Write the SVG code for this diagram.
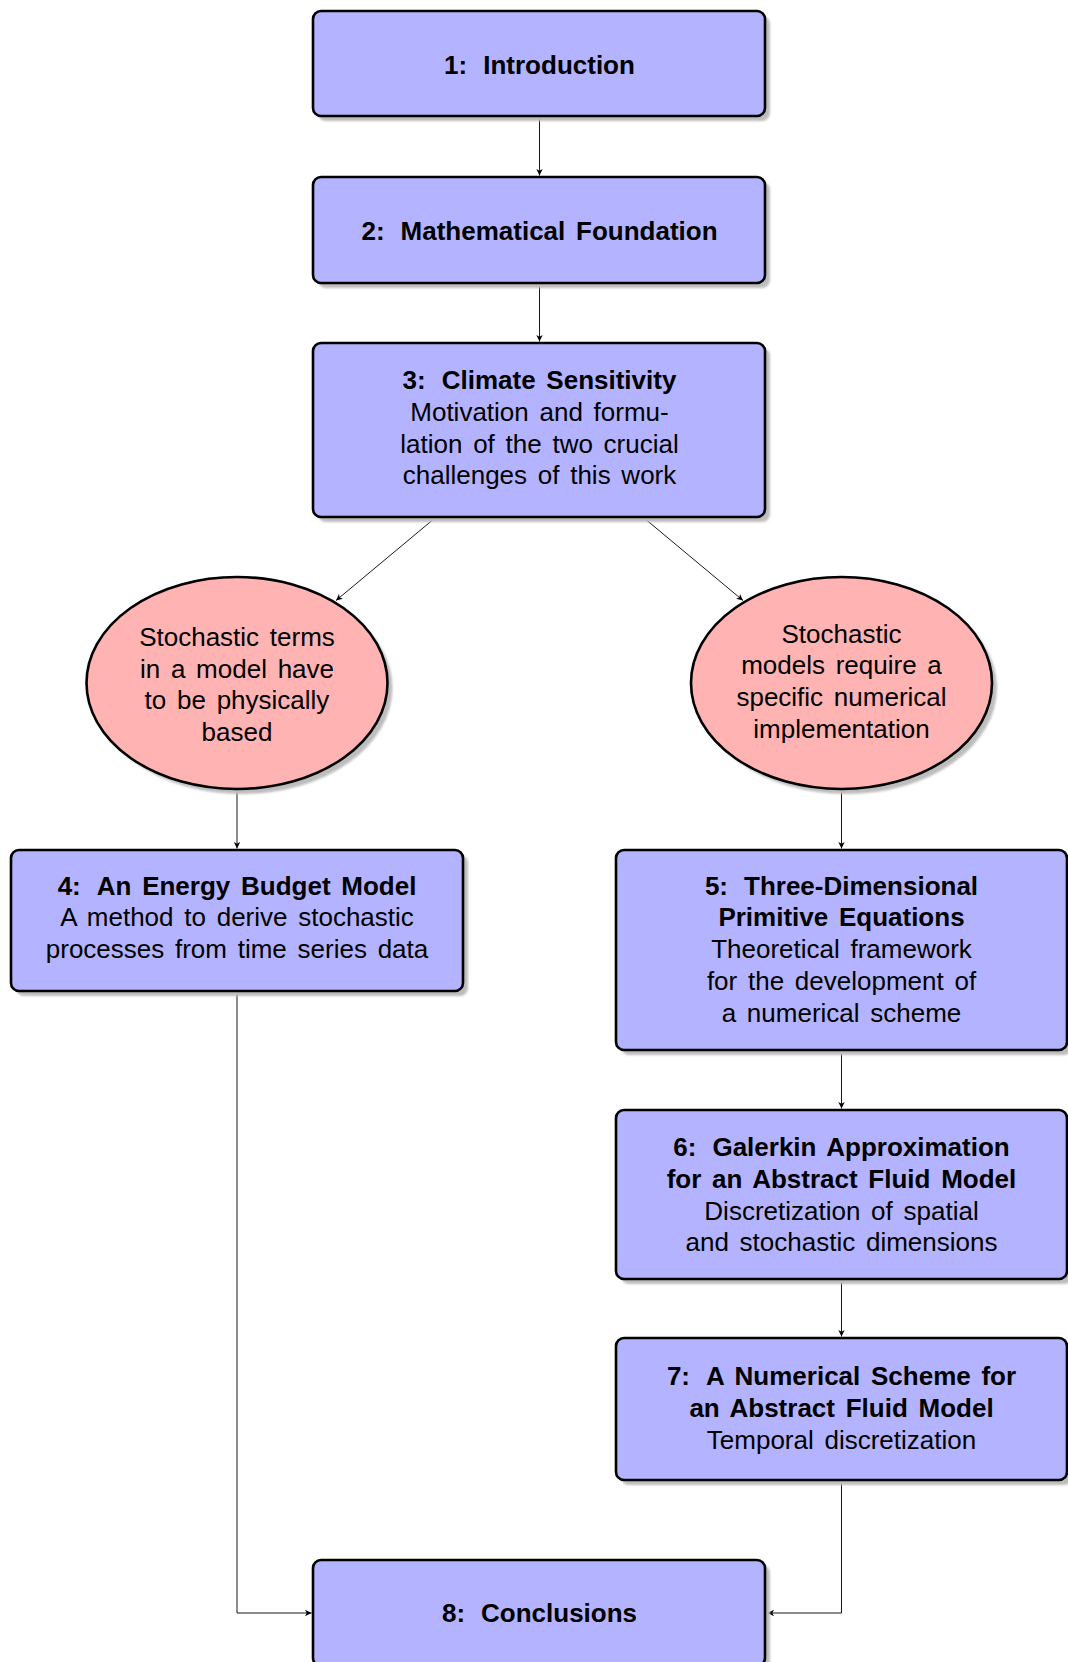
<svg xmlns="http://www.w3.org/2000/svg" width="1068" height="1662" viewBox="0 0 1068 1662">
<defs>
<style>
.box{fill:#b3b3ff;stroke:#000;stroke-width:2.6}
.ell{fill:#ffb3b3;stroke:#000;stroke-width:2.6}
.sh{fill:#bdbdbd}
text{font-family:"Liberation Sans",Arial,sans-serif;font-size:26px;fill:#000;text-anchor:middle;word-spacing:3.5px}
.b{font-weight:bold}
.con{fill:none;stroke:#000;stroke-width:0.9}
</style>
<marker id="arr" viewBox="-7 -4 8 8" refX="0" refY="0" markerWidth="8" markerHeight="8" markerUnits="userSpaceOnUse" orient="auto">
<path d="M0,0 L-6.5,-3.2 L-4.8,0 L-6.5,3.2 Z" fill="#000"/>
</marker>
<filter id="blur" x="-5%" y="-5%" width="110%" height="110%"><feGaussianBlur stdDeviation="0.8"/></filter>
</defs>
<rect width="1068" height="1662" fill="#fff"/>

<g id="connectors">
<line class="con" x1="539.5" y1="117" x2="539.5" y2="175.5" marker-end="url(#arr)"/>
<line class="con" x1="539.5" y1="283" x2="539.5" y2="341.5" marker-end="url(#arr)"/>
<line class="con" x1="435" y1="518" x2="336" y2="600.5" marker-end="url(#arr)"/>
<line class="con" x1="644" y1="518" x2="743" y2="600.5" marker-end="url(#arr)"/>
<line class="con" x1="237" y1="789" x2="237" y2="848.5" marker-end="url(#arr)"/>
<line class="con" x1="841.5" y1="789" x2="841.5" y2="848.5" marker-end="url(#arr)"/>
<line class="con" x1="841.5" y1="1050" x2="841.5" y2="1108.5" marker-end="url(#arr)"/>
<line class="con" x1="841.5" y1="1279" x2="841.5" y2="1336.5" marker-end="url(#arr)"/>
<polyline class="con" points="237,991 237,1613 311.5,1613" marker-end="url(#arr)"/>
<polyline class="con" points="841.5,1480 841.5,1613 767.5,1613" marker-end="url(#arr)"/>
</g>

<g id="n1">
<rect class="sh" filter="url(#blur)" x="318" y="16" width="452" height="105" rx="8"/>
<rect class="box" x="313" y="11" width="452" height="105" rx="8"/>
<text class="b" x="539.5" y="74">1:<tspan dx="16">Introduction</tspan></text>
</g>

<g id="n2">
<rect class="sh" filter="url(#blur)" x="318" y="182" width="452" height="106" rx="8"/>
<rect class="box" x="313" y="177" width="452" height="106" rx="8"/>
<text class="b" x="539.5" y="240">2:<tspan dx="16">Mathematical Foundation</tspan></text>
</g>

<g id="n3">
<rect class="sh" filter="url(#blur)" x="318" y="348" width="452" height="174" rx="8"/>
<rect class="box" x="313" y="343" width="452" height="174" rx="8"/>
<text class="b" x="539.5" y="388.8">3:<tspan dx="16">Climate Sensitivity</tspan></text>
<text x="539.5" y="421">Motivation and formu-</text>
<text x="539.5" y="452.7">lation of the two crucial</text>
<text x="539.5" y="484.3">challenges of this work</text>
</g>

<g id="e1">
<ellipse class="sh" filter="url(#blur)" cx="242" cy="688" rx="150.5" ry="106"/>
<ellipse class="ell" cx="237" cy="683" rx="150.5" ry="106"/>
<text x="237" y="645.7">Stochastic terms</text>
<text x="237" y="677.5">in a model have</text>
<text x="237" y="709.3">to be physically</text>
<text x="237" y="741">based</text>
</g>

<g id="e2">
<ellipse class="sh" filter="url(#blur)" cx="846.5" cy="688" rx="150.5" ry="106"/>
<ellipse class="ell" cx="841.5" cy="683" rx="150.5" ry="106"/>
<text x="841.5" y="642.5">Stochastic</text>
<text x="841.5" y="674.3">models require a</text>
<text x="841.5" y="706.1">specific numerical</text>
<text x="841.5" y="737.9">implementation</text>
</g>

<g id="n4">
<rect class="sh" filter="url(#blur)" x="16" y="855" width="452" height="141" rx="8"/>
<rect class="box" x="11" y="850" width="452" height="141" rx="8"/>
<text class="b" x="237" y="894.5">4:<tspan dx="16">An Energy Budget Model</tspan></text>
<text x="237" y="926.3">A method to derive stochastic</text>
<text x="237" y="958.1">processes from time series data</text>
</g>

<g id="n5">
<rect class="sh" filter="url(#blur)" x="621" y="855" width="451" height="200" rx="8"/>
<rect class="box" x="616" y="850" width="451" height="200" rx="8"/>
<text class="b" x="841.5" y="894.5">5:<tspan dx="16">Three-Dimensional</tspan></text>
<text class="b" x="841.5" y="926.3">Primitive Equations</text>
<text x="841.5" y="958.1">Theoretical framework</text>
<text x="841.5" y="989.9">for the development of</text>
<text x="841.5" y="1021.7">a numerical scheme</text>
</g>

<g id="n6">
<rect class="sh" filter="url(#blur)" x="621" y="1115" width="451" height="169" rx="8"/>
<rect class="box" x="616" y="1110" width="451" height="169" rx="8"/>
<text class="b" x="841.5" y="1156">6:<tspan dx="16">Galerkin Approximation</tspan></text>
<text class="b" x="841.5" y="1187.8">for an Abstract Fluid Model</text>
<text x="841.5" y="1219.6">Discretization of spatial</text>
<text x="841.5" y="1251.4">and stochastic dimensions</text>
</g>

<g id="n7">
<rect class="sh" filter="url(#blur)" x="621" y="1343" width="451" height="142" rx="8"/>
<rect class="box" x="616" y="1338" width="451" height="142" rx="8"/>
<text class="b" x="841.5" y="1385">7:<tspan dx="16">A Numerical Scheme for</tspan></text>
<text class="b" x="841.5" y="1416.8">an Abstract Fluid Model</text>
<text x="841.5" y="1448.6">Temporal discretization</text>
</g>

<g id="n8">
<rect class="sh" filter="url(#blur)" x="318" y="1565" width="452" height="106" rx="8"/>
<rect class="box" x="313" y="1560" width="452" height="106" rx="8"/>
<text class="b" x="539.5" y="1622">8:<tspan dx="16">Conclusions</tspan></text>
</g>
</svg>
